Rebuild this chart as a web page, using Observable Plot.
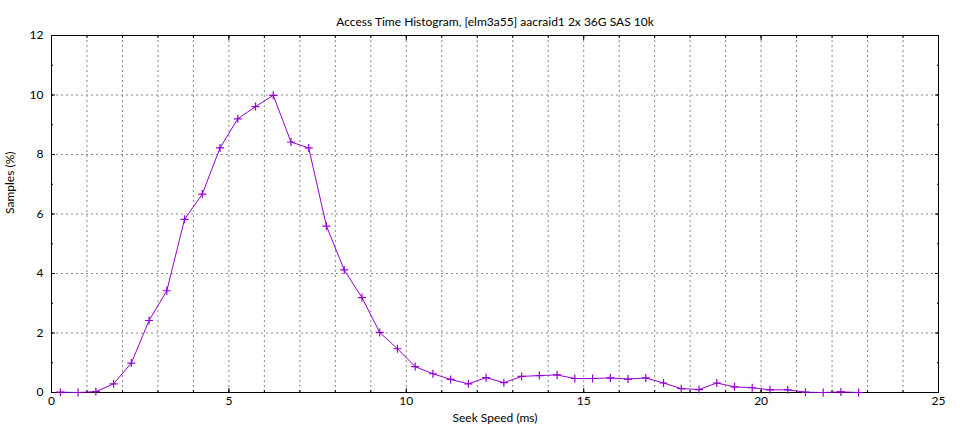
<!DOCTYPE html>
<html>
<head>
<meta charset="utf-8">
<script src="https://cdn.jsdelivr.net/npm/d3@7"></script>
<script src="https://cdn.jsdelivr.net/npm/@observablehq/plot@0.6"></script>
<style>
  body { margin: 0; background: #fff; }
  svg { font-family: Lato, "Noto Sans", sans-serif; }
</style>
</head>
<body>
<div id="chart"></div>
<script>
const title = "Access Time Histogram, [elm3a55] aacraid1 2x 36G SAS 10k";
const xLabel = "Seek Speed (ms)";
const yLabel = "Samples (%)";
const seekMs = [0.25, 0.75, 1.25, 1.75, 2.25, 2.75, 3.25, 3.75, 4.25, 4.75,
  5.25, 5.75, 6.25, 6.75, 7.25, 7.75, 8.25, 8.75, 9.25, 9.75,
  10.25, 10.75, 11.25, 11.75, 12.25, 12.75, 13.25, 13.75, 14.25, 14.75,
  15.25, 15.75, 16.25, 16.75, 17.25, 17.75, 18.25, 18.75, 19.25, 19.75,
  20.25, 20.75, 21.25, 21.75, 22.25, 22.75];
const samplesPct = [0.01, 0.0, 0.03, 0.29, 0.99, 2.42, 3.42, 5.82, 6.67, 8.22,
  9.2, 9.61, 9.99, 8.42, 8.22, 5.59, 4.12, 3.19, 2.02, 1.47,
  0.87, 0.63, 0.44, 0.29, 0.5, 0.33, 0.54, 0.57, 0.59, 0.47,
  0.47, 0.49, 0.45, 0.49, 0.32, 0.13, 0.1, 0.32, 0.19, 0.16,
  0.09, 0.09, 0.01, 0.0, 0.02, 0.0];
const xMajor = [0, 5, 10, 15, 20, 25];
const xMinor = d3.range(0, 26);
const yMajor = [0, 2, 4, 6, 8, 10, 12];
const yMinor = d3.range(0, 13);

const data = seekMs.map((x, i) => ({x, y: samplesPct[i]}));
const color = "#9400d3";

const plusSymbol = {
  draw(ctx, size) {
    const r = Math.sqrt(size / Math.PI);
    ctx.moveTo(-r, 0); ctx.lineTo(r, 0);
    ctx.moveTo(0, -r); ctx.lineTo(0, r);
  }
};

const chart = Plot.plot({
  width: 960,
  height: 432,
  marginLeft: 51,
  marginRight: 22,
  marginTop: 35,
  marginBottom: 40,
  style: {fontSize: "12px", fontFamily: "Lato, 'Noto Sans', sans-serif", color: "#000", background: "#fff"},
  x: {domain: [0, 25]},
  y: {domain: [0, 12]},
  marks: [
    Plot.gridX(xMinor, {stroke: "#888", strokeOpacity: 1, strokeDasharray: "2,3"}),
    Plot.gridY(yMajor, {stroke: "#888", strokeOpacity: 1, strokeDasharray: "2,3"}),
    Plot.axisX(xMinor, {anchor: "bottom", tickSize: -2, text: null, label: null, stroke: "#000"}),
    Plot.axisX(xMinor, {anchor: "top", tickSize: -2, text: null, label: null, stroke: "#000"}),
    Plot.axisX(xMajor, {anchor: "bottom", tickSize: -4, tickPadding: 8, label: null, stroke: "#000", fill: "#000"}),
    Plot.axisX(xMajor, {anchor: "top", tickSize: -4, text: null, label: null, stroke: "#000"}),
    Plot.axisY(yMinor, {anchor: "left", tickSize: -2, text: null, label: null, stroke: "#000"}),
    Plot.axisY(yMinor, {anchor: "right", tickSize: -2, text: null, label: null, stroke: "#000"}),
    Plot.axisY(yMajor, {anchor: "left", tickSize: -4, tickPadding: 12, label: null, stroke: "#000", fill: "#000"}),
    Plot.axisY(yMajor, {anchor: "right", tickSize: -4, text: null, label: null, stroke: "#000"}),
    Plot.frame({stroke: "#000", strokeWidth: 1}),
    Plot.line(data, {x: "x", y: "y", stroke: color, strokeWidth: 1}),
    Plot.dot(data, {x: "x", y: "y", symbol: plusSymbol, r: 4, stroke: color, strokeWidth: 1.2, fill: "none"}),
    Plot.text([title], {frameAnchor: "top", dy: -18, fontSize: 12, fill: "#000"}),
    Plot.text([xLabel], {frameAnchor: "bottom", dy: 29, fontSize: 12, fill: "#000"}),
    Plot.text([yLabel], {frameAnchor: "left", dx: -41, rotate: -90, fontSize: 12, fill: "#000"})
  ]
});
document.getElementById("chart").appendChild(chart);
</script>
</body>
</html>
